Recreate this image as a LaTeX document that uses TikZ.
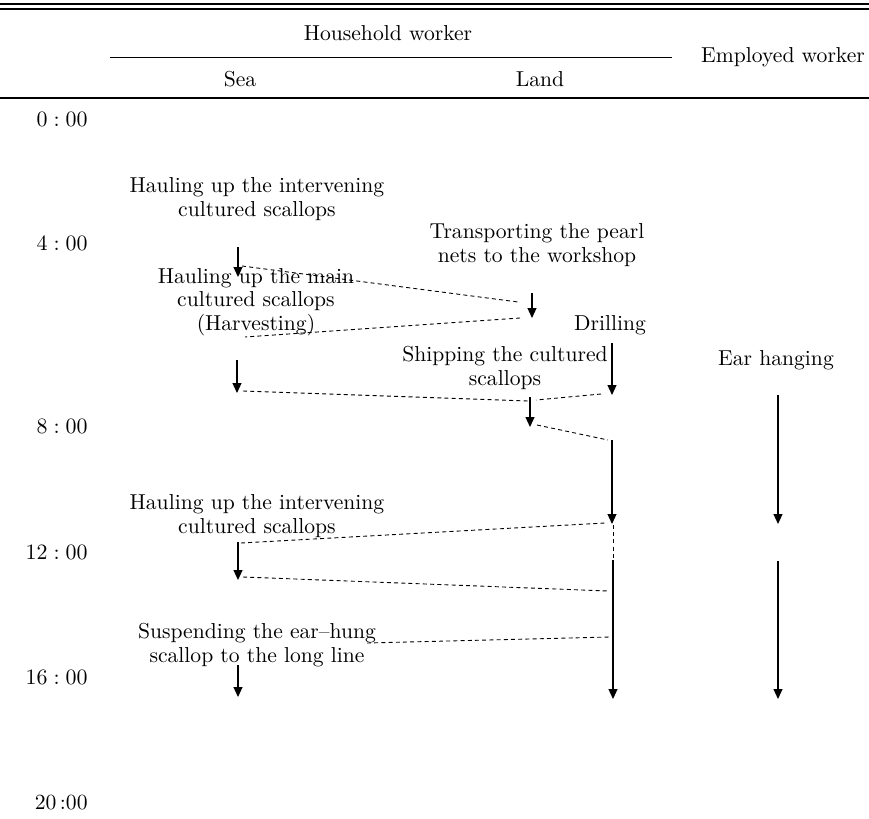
\documentclass[tikz,border=0pt]{standalone}
\usetikzlibrary{arrows.meta}
\begin{document}
\begin{tikzpicture}[x=0.5pt,y=-0.5pt,
  lbl/.style={align=center,font=\fontsize{10.8}{11.75}\selectfont,inner sep=0pt},
  tlbl/.style={anchor=east,font=\fontsize{10.8}{11.75}\selectfont,inner sep=0pt},
  arr/.style={line width=0.6pt,-{Triangle[length=5pt,width=4.5pt]}},
  dsh/.style={line width=0.45pt,dash pattern=on 2pt off 1.6pt},
  rulel/.style={line width=0.75pt},
  cmid/.style={line width=0.5pt}]
\useasboundingbox (0,0) rectangle (869,819);
% table rules
\coordinate (r1a) at (0,4);   \coordinate (r1b) at (869,4);
\coordinate (r2a) at (0,9);   \coordinate (r2b) at (869,9);
\coordinate (r3a) at (0,98);  \coordinate (r3b) at (869,98);
\coordinate (cm1) at (110,57); \coordinate (cm2) at (672,57);
\draw[rulel] (r1a) -- (r1b);
\draw[rulel] (r2a) -- (r2b);
\draw[rulel] (r3a) -- (r3b);
\draw[cmid] (cm1) -- (cm2);
% header
\node[lbl] (hh) at (388,33) {Household worker};
\node[lbl] (sea) at (240,79) {Sea};
\node[lbl] (land) at (540,79) {Land};
\node[lbl] (emp) at (783,57) {Employed worker};
% times
\node[tlbl] (t0) at (88,119) {$0:00$};
\node[tlbl] (t4) at (88,243) {$4:00$};
\node[tlbl] (t8) at (88,426) {$8:00$};
\node[tlbl] (t12) at (88,552) {$12:00$};
\node[tlbl] (t16) at (88,677) {$16:00$};
\node[tlbl] (t20) at (88,803) {20\,:00};
% activity labels
\node[lbl] (hi1) at (257,199) {Hauling up the intervening\\cultured scallops};
\node[lbl] (tp) at (537,245) {Transporting the pearl\\nets to the workshop};
\node[lbl] (hm) at (256,302) {Hauling up the main\\cultured scallops\\(Harvesting)};
\node[lbl] (dr) at (610,325) {Drilling};
\node[lbl] (sh) at (505,368) {Shipping the cultured\\scallops};
\node[lbl] (eh) at (776,360) {Ear hanging};
\node[lbl] (hi2) at (257,516) {Hauling up the intervening\\cultured scallops};
\node[lbl] (su) at (257,645) {Suspending the ear--hung\\scallop to the long line};
% arrow end points
\coordinate (a1s) at (238,247); \coordinate (a1e) at (238,277);
\coordinate (a2s) at (532,293); \coordinate (a2e) at (532,318);
\coordinate (a3s) at (237,360); \coordinate (a3e) at (237,393);
\coordinate (a4s) at (612,343); \coordinate (a4e) at (612,395);
\coordinate (a5s) at (530,397); \coordinate (a5e) at (530,427);
\coordinate (a6s) at (612,440); \coordinate (a6e) at (612,524);
\coordinate (e1s) at (778,395); \coordinate (e1e) at (778,524);
\coordinate (a7s) at (238,542); \coordinate (a7e) at (238,580);
\coordinate (a8s) at (613,560); \coordinate (a8e) at (613,699);
\coordinate (e2s) at (778,561); \coordinate (e2e) at (778,699);
\coordinate (a9s) at (238,665); \coordinate (a9e) at (238,697);
\draw[arr] (a1s) -- (a1e);
\draw[arr] (a2s) -- (a2e);
\draw[arr] (a3s) -- (a3e);
\draw[arr] (a4s) -- (a4e);
\draw[arr] (a5s) -- (a5e);
\draw[arr] (a6s) -- (a6e);
\draw[arr] (e1s) -- (e1e);
\draw[arr] (a7s) -- (a7e);
\draw[arr] (a8s) -- (a8e);
\draw[arr] (e2s) -- (e2e);
\draw[arr] (a9s) -- (a9e);
% dashed transfer lines
\coordinate (d1s) at (242,266); \coordinate (d1e) at (518,302);
\coordinate (d2s) at (520,318); \coordinate (d2e) at (245,337);
\coordinate (d3s) at (243,391); \coordinate (d3e) at (528,401);
\coordinate (d4s) at (601,394); \coordinate (d4e) at (536,400);
\coordinate (d5s) at (537,425); \coordinate (d5e) at (608,440);
\coordinate (d6s) at (241,543); \coordinate (d6e) at (605,523);
\coordinate (d7s) at (613,525); \coordinate (d7e) at (613,558);
\coordinate (d8s) at (243,577); \coordinate (d8e) at (608,591);
\coordinate (d9s) at (367,643); \coordinate (d9e) at (610,637);
\draw[dsh] (d1s) -- (d1e);
\draw[dsh] (d2s) -- (d2e);
\draw[dsh] (d3s) -- (d3e);
\draw[dsh] (d4s) -- (d4e);
\draw[dsh] (d5s) -- (d5e);
\draw[dsh] (d6s) -- (d6e);
\draw[dsh] (d7s) -- (d7e);
\draw[dsh] (d8s) -- (d8e);
\draw[dsh] (d9s) -- (d9e);
\end{tikzpicture}
\end{document}
